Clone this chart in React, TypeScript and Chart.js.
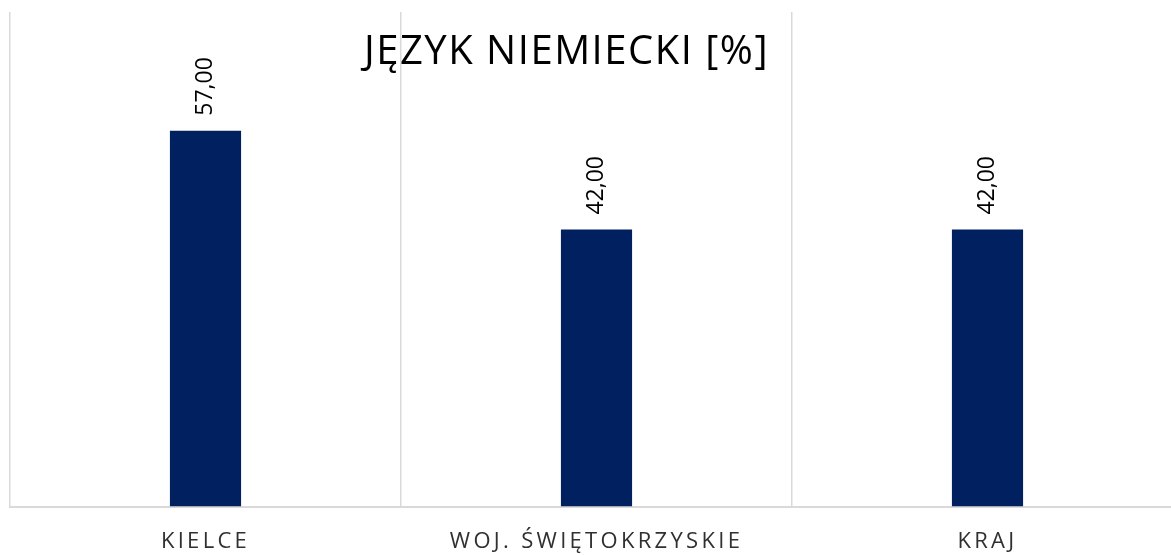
import React, { useEffect, useRef } from "react";
import { Chart, registerables } from "chart.js";

Chart.register(...registerables);

const categories = ["KIELCE", "WOJ. ŚWIĘTOKRZYSKIE", "KRAJ"];
const values = [57, 42, 42];
const titleText = "JĘZYK NIEMIECKI [%]";

const FONT = "'Open Sans', 'DejaVu Sans', sans-serif";

const spacingPlugin = {
  id: "spacing",
  beforeDraw(chart: any) {
    (chart.ctx as any).letterSpacing = "3.3px";
  },
  beforeDatasetsDraw(chart: any) {
    (chart.ctx as any).letterSpacing = "0px";
  },
};

const labelsPlugin = {
  id: "valueLabels",
  afterDatasetsDraw(chart: any) {
    const ctx = chart.ctx;
    const meta = chart.getDatasetMeta(0);
    ctx.save();
    (ctx as any).letterSpacing = "0px";
    ctx.font = `23px ${FONT}`;
    ctx.fillStyle = "#000000";
    ctx.textAlign = "left";
    ctx.textBaseline = "middle";
    meta.data.forEach((bar: any, i: number) => {
      const txt = values[i].toFixed(2).replace(".", ",");
      ctx.save();
      ctx.translate(bar.x, bar.y - 15);
      ctx.rotate(-Math.PI / 2);
      ctx.fillText(txt, 0, 0);
      ctx.restore();
    });
    ctx.restore();
  },
};

const titlePlugin = {
  id: "customTitle",
  afterDraw(chart: any) {
    const ctx = chart.ctx;
    const area = chart.chartArea;
    ctx.save();
    (ctx as any).letterSpacing = "1.5px";
    ctx.font = `40px ${FONT}`;
    ctx.fillStyle = "#000000";
    ctx.textAlign = "center";
    ctx.textBaseline = "middle";
    ctx.fillText(titleText, (area.left + area.right) / 2 - 30, area.top + 41);
    ctx.restore();
  },
};

export default function App() {
  const ref = useRef<HTMLCanvasElement | null>(null);
  useEffect(() => {
    if (!ref.current) return;
    const chart = new Chart(ref.current, {
      type: "bar",
      data: {
        labels: categories,
        datasets: [
          {
            data: values,
            backgroundColor: "#002060",
            borderWidth: 0,
            barPercentage: 0.182,
            categoryPercentage: 1,
          },
        ],
      },
      options: {
        animation: false,
        responsive: false,
        maintainAspectRatio: false,
        layout: { padding: { left: 10, top: 12, right: 0, bottom: 2 } },
        plugins: {
          legend: { display: false },
          title: { display: false },
          tooltip: { enabled: false },
        },
        scales: {
          x: {
            offset: true,
            grid: {
              offset: true,
              color: "#d9d9d9",
              lineWidth: 1.5,
              drawTicks: false,
            },
            border: { display: true, color: "#d9d9d9", width: 2 },
            ticks: {
              color: "#303030",
              font: { family: FONT, size: 22 },
              padding: 22,
              maxRotation: 0,
            },
          },
          y: {
            display: false,
            min: 0,
            max: 75,
          },
        },
      },
      plugins: [spacingPlugin, labelsPlugin, titlePlugin],
    });
    return () => chart.destroy();
  }, []);
  return (
    <div
      style={{
        position: "fixed",
        left: 0,
        top: 0,
        width: 1171,
        height: 555,
        overflow: "hidden",
        background: "#ffffff",
      }}
    >
      <canvas ref={ref} width={1183} height={579} style={{ display: "block" }} />
    </div>
  );
}
